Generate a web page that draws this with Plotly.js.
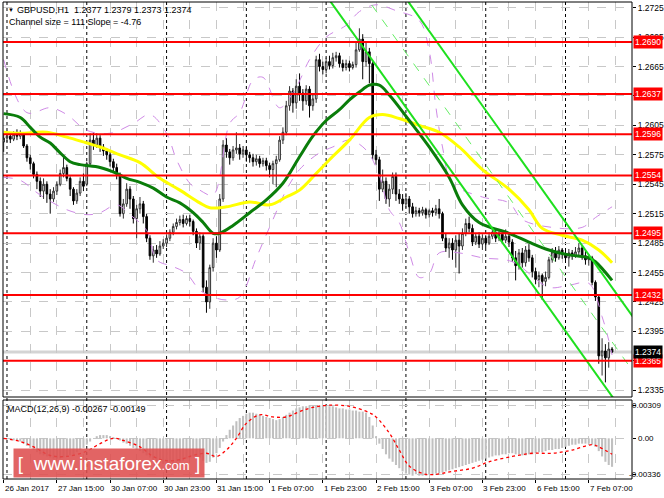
<!DOCTYPE html>
<html><head><meta charset="utf-8">
<script src="https://cdn.plot.ly/plotly-3.0.1.min.js"></script>
<style>html,body{margin:0;padding:0;background:#fff;}#chart{width:664px;height:498px;}</style>
</head><body><div id="chart"></div>
<script>
// ---------- DATA (GBPUSD H1, bars from 26 Jan 2017 23:00) ----------
const openP = [1.2588,1.2592,1.2594,1.2591,1.2596,1.2594,1.2597,1.2584,1.2572,1.2566,
1.2555,1.2548,1.2538,1.2545,1.2535,1.2530,1.2538,1.2545,1.2556,1.2562,
1.2551,1.2540,1.2528,1.2536,1.2548,1.2545,1.2566,1.2590,1.2585,1.2592,
1.2583,1.2579,1.2575,1.2568,1.2562,1.2555,1.2515,1.2525,1.2540,1.2530,
1.2510,1.2520,1.2525,1.2512,1.2490,1.2472,1.2478,1.2474,1.2482,1.2485,
1.2490,1.2496,1.2502,1.2506,1.2509,1.2505,1.2510,1.2507,1.2497,1.2485,
1.2492,1.2440,1.2425,1.2460,1.2485,1.2478,1.2530,1.2585,1.2578,1.2572,
1.2580,1.2582,1.2576,1.2580,1.2575,1.2572,1.2568,1.2571,1.2566,1.2569,
1.2564,1.2560,1.2566,1.2570,1.2590,1.2598,1.2625,1.2640,1.2628,1.2645,
1.2638,1.2630,1.2642,1.2625,1.2632,1.2672,1.2665,1.2662,1.2670,1.2666,
1.2674,1.2676,1.2668,1.2664,1.2668,1.2664,1.2667,1.2682,1.2693,1.2670,
1.2680,1.2668,1.2575,1.2570,1.2540,1.2548,1.2530,1.2540,1.2553,1.2535,
1.2530,1.2525,1.2530,1.2522,1.2515,1.2518,1.2516,1.2519,1.2514,1.2518,
1.2516,1.2520,1.2515,1.2490,1.2480,1.2485,1.2478,1.2488,1.2482,1.2495,
1.2505,1.2500,1.2486,1.2492,1.2484,1.2490,1.2485,1.2492,1.2496,1.2490,
1.2494,1.2488,1.2492,1.2486,1.2470,1.2462,1.2475,1.2465,1.2478,1.2470,
1.2456,1.2448,1.2452,1.2446,1.2450,1.2468,1.2476,1.2470,1.2478,1.2474,
1.2470,1.2475,1.2472,1.2476,1.2480,1.2472,1.2468,1.2470,1.2445,1.2430,
1.2370,1.2375,1.2368,1.2377];
const highP = [1.2596,1.2598,1.2597,1.2599,1.2601,1.2600,1.2598,1.2586,1.2575,1.2568,
1.2558,1.2552,1.2551,1.2548,1.2540,1.2542,1.2548,1.2560,1.2573,1.2565,
1.2553,1.2542,1.2540,1.2552,1.2556,1.2568,1.2597,1.2598,1.2597,1.2595,
1.2586,1.2582,1.2578,1.2571,1.2566,1.2557,1.2530,1.2546,1.2543,1.2533,
1.2524,1.2532,1.2528,1.2515,1.2493,1.2482,1.2483,1.2487,1.2489,1.2494,
1.2499,1.2505,1.2510,1.2513,1.2514,1.2513,1.2514,1.2509,1.2500,1.2496,
1.2494,1.2447,1.2463,1.2490,1.2492,1.2535,1.2590,1.2592,1.2581,1.2584,
1.2598,1.2586,1.2584,1.2583,1.2578,1.2576,1.2575,1.2574,1.2572,1.2572,
1.2567,1.2569,1.2574,1.2594,1.2603,1.2630,1.2645,1.2643,1.2652,1.2658,
1.2642,1.2646,1.2645,1.2636,1.2676,1.2678,1.2670,1.2674,1.2676,1.2679,
1.2680,1.2679,1.2672,1.2672,1.2671,1.2670,1.2690,1.2704,1.2698,1.2690,
1.2684,1.2670,1.2580,1.2573,1.2560,1.2552,1.2545,1.2557,1.2557,1.2540,
1.2535,1.2536,1.2533,1.2526,1.2522,1.2521,1.2522,1.2521,1.2520,1.2521,
1.2524,1.2530,1.2517,1.2495,1.2490,1.2490,1.2493,1.2495,1.2500,1.2510,
1.2512,1.2504,1.2495,1.2496,1.2494,1.2493,1.2496,1.2500,1.2499,1.2497,
1.2496,1.2499,1.2495,1.2489,1.2477,1.2479,1.2480,1.2482,1.2484,1.2473,
1.2460,1.2456,1.2454,1.2456,1.2471,1.2480,1.2481,1.2482,1.2480,1.2478,
1.2479,1.2478,1.2481,1.2485,1.2483,1.2477,1.2474,1.2472,1.2447,1.2432,
1.2388,1.2382,1.2384,1.2379];
const lowP = [1.2578,1.2588,1.2587,1.2589,1.2590,1.2591,1.2582,1.2568,1.2560,1.2551,
1.2540,1.2532,1.2530,1.2526,1.2515,1.2527,1.2534,1.2543,1.2552,1.2548,
1.2533,1.2524,1.2525,1.2533,1.2538,1.2543,1.2563,1.2580,1.2582,1.2578,
1.2574,1.2570,1.2563,1.2558,1.2550,1.2512,1.2510,1.2522,1.2520,1.2505,
1.2490,1.2515,1.2505,1.2486,1.2468,1.2465,1.2470,1.2472,1.2479,1.2481,
1.2487,1.2493,1.2499,1.2503,1.2501,1.2503,1.2502,1.2493,1.2480,1.2478,
1.2435,1.2414,1.2418,1.2456,1.2470,1.2476,1.2527,1.2572,1.2565,1.2569,
1.2576,1.2570,1.2572,1.2568,1.2567,1.2563,1.2564,1.2562,1.2563,1.2559,
1.2552,1.2545,1.2542,1.2568,1.2586,1.2595,1.2620,1.2618,1.2622,1.2630,
1.2620,1.2626,1.2613,1.2620,1.2628,1.2660,1.2657,1.2658,1.2662,1.2663,
1.2670,1.2664,1.2660,1.2661,1.2660,1.2662,1.2664,1.2680,1.2652,1.2665,
1.2648,1.2570,1.2565,1.2528,1.2537,1.2525,1.2522,1.2535,1.2528,1.2525,
1.2518,1.2521,1.2515,1.2511,1.2512,1.2512,1.2513,1.2510,1.2511,1.2512,
1.2513,1.2510,1.2487,1.2476,1.2470,1.2468,1.2460,1.2454,1.2478,1.2492,
1.2496,1.2482,1.2483,1.2480,1.2478,1.2480,1.2483,1.2489,1.2486,1.2487,
1.2484,1.2485,1.2481,1.2466,1.2447,1.2458,1.2460,1.2461,1.2466,1.2450,
1.2443,1.2440,1.2427,1.2441,1.2448,1.2465,1.2466,1.2468,1.2469,1.2465,
1.2461,1.2468,1.2470,1.2472,1.2468,1.2463,1.2462,1.2442,1.2426,1.2362,
1.2350,1.2343,1.2358,1.2373];
const closeP = [1.2592,1.2594,1.2591,1.2596,1.2594,1.2597,1.2584,1.2572,1.2566,1.2555,
1.2548,1.2538,1.2545,1.2535,1.2530,1.2538,1.2545,1.2556,1.2562,1.2551,
1.2540,1.2528,1.2536,1.2548,1.2543,1.2566,1.2590,1.2585,1.2592,1.2583,
1.2579,1.2575,1.2568,1.2562,1.2555,1.2515,1.2525,1.2540,1.2530,1.2510,
1.2520,1.2525,1.2512,1.2490,1.2472,1.2478,1.2474,1.2482,1.2485,1.2490,
1.2496,1.2502,1.2506,1.2509,1.2505,1.2510,1.2507,1.2497,1.2485,1.2492,
1.2440,1.2425,1.2460,1.2485,1.2478,1.2530,1.2585,1.2578,1.2572,1.2580,
1.2582,1.2576,1.2580,1.2575,1.2572,1.2568,1.2571,1.2566,1.2569,1.2564,
1.2560,1.2566,1.2570,1.2590,1.2598,1.2625,1.2640,1.2628,1.2645,1.2638,
1.2630,1.2642,1.2625,1.2632,1.2672,1.2665,1.2662,1.2670,1.2666,1.2674,
1.2676,1.2668,1.2664,1.2668,1.2664,1.2667,1.2682,1.2693,1.2670,1.2680,
1.2668,1.2575,1.2570,1.2540,1.2548,1.2530,1.2540,1.2553,1.2535,1.2530,
1.2525,1.2530,1.2522,1.2515,1.2518,1.2516,1.2519,1.2514,1.2518,1.2516,
1.2520,1.2515,1.2490,1.2480,1.2485,1.2478,1.2488,1.2482,1.2495,1.2505,
1.2500,1.2486,1.2492,1.2484,1.2490,1.2485,1.2492,1.2496,1.2490,1.2494,
1.2488,1.2492,1.2486,1.2470,1.2462,1.2475,1.2465,1.2478,1.2470,1.2456,
1.2448,1.2452,1.2446,1.2450,1.2468,1.2476,1.2470,1.2478,1.2474,1.2470,
1.2475,1.2472,1.2476,1.2480,1.2472,1.2468,1.2470,1.2445,1.2430,1.2370,
1.2375,1.2368,1.2377,1.2374];

// Moving averages (sampled at bar index)
const maGreenIdx = [0,5,8,11,14,17,20,23,29,34,37,41,45,49,53,57,60,63,65,69,74,79,84,89,93,97,101,104,107,110,113,116,122,128,134,138,143,152,158,164,170,176,178,183];
const maGreenVal = [1.2617,1.2613,1.2603,1.2593,1.2587,1.2577,1.2568,1.2565,1.2562,1.2556,1.2551,1.2547,1.2541,1.2532,1.2526,1.2516,1.2506,1.2495,1.2495,1.2503,1.2516,1.2529,1.2546,1.2573,1.2594,1.2610,1.2621,1.2631,1.2639,1.2646,1.2646,1.2636,1.2610,1.2583,1.2552,1.2524,1.2506,1.2495,1.2486,1.2478,1.2473,1.2470,1.2466,1.2447];
const maYellowIdx = [0,5,13,19,25,29,35,41,47,53,59,62,67,74,80,85,89,94,98,104,110,114,119,125,131,137,144,152,158,162,168,174,179,183];
const maYellowVal = [1.2598,1.2597,1.2598,1.2593,1.2587,1.2583,1.2575,1.2567,1.2551,1.2539,1.2526,1.2521,1.2522,1.2527,1.2524,1.2532,1.2539,1.2556,1.2570,1.2590,1.2613,1.2616,1.2612,1.2605,1.2598,1.2583,1.2560,1.2540,1.2519,1.2500,1.2493,1.2488,1.2478,1.2465];

// Bollinger-type bands
const bandUpIdx = [0,7,14,19,25,32,39,44,49,52,56,59,63,68,71,75,78,83,88,92,97,103,107,112,118,125,128,130,132,135,144,152,156,165,174,178,183];
const bandUpVal = [1.2672,1.2618,1.2623,1.2616,1.2600,1.2597,1.2607,1.2616,1.2597,1.2570,1.2546,1.2539,1.2534,1.2607,1.2618,1.2651,1.2654,1.2623,1.2644,1.2672,1.2695,1.2707,1.2721,1.2728,1.2722,1.2712,1.2681,1.2624,1.2583,1.2546,1.2532,1.2526,1.2509,1.2501,1.2501,1.2511,1.2522];
const bandLoIdx = [0,5,11,19,25,29,34,38,43,46,51,55,59,63,67,71,76,81,85,89,95,99,104,109,113,116,119,122,125,128,131,137,144,153,164,170,176,180,182,183];
const bandLoVal = [1.2552,1.2549,1.2534,1.2519,1.2514,1.2516,1.2524,1.2514,1.2498,1.2468,1.2461,1.2454,1.2437,1.2430,1.2427,1.2430,1.2470,1.2509,1.2539,1.2560,1.2577,1.2583,1.2590,1.2580,1.2554,1.2519,1.2506,1.2475,1.2450,1.2454,1.2475,1.2475,1.2470,1.2466,1.2440,1.2442,1.2444,1.2410,1.2386,1.2371];

// Regression channel (size 111, slope -4.76)
const chanIdx = [95, 192];
const chanLower = [1.2747, 1.2286];
const chanMid = [1.28025, 1.23415];
const chanUpper = [1.2858, 1.2397];

// Horizontal levels
const levels = [1.2690, 1.2637, 1.2596, 1.2554, 1.2495, 1.2432, 1.2365];
const lastPrice = 1.2374;

// MACD(12,26,9)
const macdHist = [-0.0001,-0.0001,-0.0001,-0.0002,-0.0002,-0.0003,-0.0005,-0.0007,-0.0009,-0.0011,
-0.0013,-0.0015,-0.0016,-0.0017,-0.0018,-0.0019,-0.0019,-0.0019,-0.0018,-0.0017,
-0.0016,-0.0015,-0.0013,-0.0011,-0.0009,-0.0006,-0.0003,0.0000,0.0002,0.0003,
0.0003,0.0003,0.0002,0.0001,0.0000,-0.0002,-0.0004,-0.0005,-0.0007,-0.0009,
-0.0011,-0.0012,-0.0014,-0.0016,-0.0018,-0.0020,-0.0022,-0.0023,-0.0024,-0.0025,
-0.0026,-0.0025,-0.0024,-0.0022,-0.0021,-0.0019,-0.0018,-0.0017,-0.0017,-0.0018,
-0.0021,-0.0023,-0.0022,-0.0018,-0.0014,-0.0009,-0.0003,0.0003,0.0008,0.0012,
0.0016,0.0019,0.0021,0.0023,0.0024,0.0024,0.0023,0.0022,0.0021,0.0020,
0.0019,0.0018,0.0017,0.0018,0.0020,0.0022,0.0024,0.0026,0.0028,0.0029,
0.0030,0.0030,0.00309,0.00309,0.00309,0.00309,0.00309,0.00309,0.0030,0.0030,
0.0029,0.0028,0.0028,0.0027,0.0027,0.0026,0.0026,0.0025,0.0025,0.0024,
0.0020,0.0012,0.0002,-0.0005,-0.0010,-0.0015,-0.0019,-0.0022,-0.0025,-0.0028,
-0.0031,-0.0033,-0.0034,-0.0035,-0.00336,-0.0035,-0.0035,-0.0035,-0.0034,-0.0034,
-0.0033,-0.0033,-0.0032,-0.0031,-0.0030,-0.0029,-0.0028,-0.0027,-0.0026,-0.0025,
-0.0024,-0.0023,-0.0022,-0.0021,-0.0020,-0.0019,-0.0018,-0.0017,-0.0016,-0.0016,
-0.0015,-0.0015,-0.0014,-0.0014,-0.0015,-0.0015,-0.0016,-0.0016,-0.0015,-0.0015,
-0.0014,-0.0013,-0.0013,-0.0012,-0.0011,-0.0011,-0.0010,-0.0010,-0.0009,-0.0008,
-0.0007,-0.0006,-0.0006,-0.0005,-0.0005,-0.0005,-0.0005,-0.0006,-0.0008,-0.0012,
-0.0017,-0.0022,-0.0025,-0.00267];
const sigIdx = [0,5,9,14,19,25,29,33,36,41,45,49,53,57,61,64,67,70,73,77,81,85,89,93,98,104,110,112,116,119,122,126,129,135,141,146,153,159,165,171,177,179,183];
const sigVal = [0.0000,-0.0003,-0.0008,-0.0016,-0.0017,-0.0012,-0.0005,0.0000,-0.0002,-0.0008,
-0.0017,-0.0021,-0.0020,-0.0016,-0.0014,-0.0017,-0.0011,0.0000,0.0014,0.0022,
0.0020,0.0020,0.0025,0.0029,0.0031,0.0030,0.0024,0.0020,0.0005,-0.0011,
-0.0026,-0.0033,-0.0034,-0.0031,-0.0028,-0.0022,-0.0017,-0.0014,-0.0014,-0.0011,
-0.0006,-0.0008,-0.00149];

// Axis ticks / labels
const priceTicks = [1.2335,1.2365,1.2395,1.2425,1.2455,1.2485,1.2515,1.2545,1.2575,1.2605,1.2635,1.2665,1.2695,1.2725];
const hiddenPriceTicks = [1.2365, 1.2635]; // fully covered by level labels in the original
const macdTicks = [0.00309, 0, -0.00336];
const macdTickText = ['0.00309', '0.00', '-0.00336'];
const timeLabelIdx = [0,16,32,48,64,80,96,112,128,144,160,176];
const timeLabels = ['26 Jan 2017','27 Jan 15:00','30 Jan 07:00','30 Jan 23:00','31 Jan 15:00','1 Feb 07:00','1 Feb 23:00','2 Feb 15:00','3 Feb 07:00','3 Feb 23:00','6 Feb 15:00','7 Feb 07:00'];
const daySeparators = [1,25,49,73,97,121,145,169];

// ---------- CHART ----------
const FONT = 'Liberation Sans, Arial, sans-serif';
const barIdx = closeP.map((_, i) => i);
const minorIdx = [];
for (let k = 8; k < 190; k += 16) minorIdx.push(k);

const MAIN_DOM = [0.1719, 1];
const MACD_DOM = [0, 0.1656];

const traces = [
  {type:'candlestick', x:barIdx, open:openP, high:highP, low:lowP, close:closeP,
   increasing:{line:{color:'#303030', width:1}, fillcolor:'#ffffff'},
   decreasing:{line:{color:'#000000', width:1}, fillcolor:'#000000'},
   whiskerwidth:0, hoverinfo:'skip', xaxis:'x', yaxis:'y'},
  {type:'scatter', mode:'lines', x:bandUpIdx, y:bandUpVal, line:{color:'#cf8ae6', width:1, dash:'dash', shape:'spline'}, hoverinfo:'skip', xaxis:'x', yaxis:'y'},
  {type:'scatter', mode:'lines', x:bandLoIdx, y:bandLoVal, line:{color:'#cf8ae6', width:1, dash:'dash', shape:'spline'}, hoverinfo:'skip', xaxis:'x', yaxis:'y'},
  {type:'scatter', mode:'lines', x:maYellowIdx, y:maYellowVal, line:{color:'#ffff00', width:3, shape:'spline'}, hoverinfo:'skip', xaxis:'x', yaxis:'y'},
  {type:'scatter', mode:'lines', x:maGreenIdx, y:maGreenVal, line:{color:'#0a7d0a', width:3, shape:'spline'}, hoverinfo:'skip', xaxis:'x', yaxis:'y'},
  {type:'scatter', mode:'lines', x:chanIdx, y:chanMid, line:{color:'#66ee66', width:1, dash:'dash'}, hoverinfo:'skip', xaxis:'x', yaxis:'y'},
  {type:'scatter', mode:'lines', x:chanIdx, y:chanUpper, line:{color:'#1ee01e', width:2}, hoverinfo:'skip', xaxis:'x', yaxis:'y'},
  {type:'scatter', mode:'lines', x:chanIdx, y:chanLower, line:{color:'#1ee01e', width:2}, hoverinfo:'skip', xaxis:'x', yaxis:'y'},
  {type:'bar', x:barIdx, y:macdHist, width:0.62, marker:{color:'#c0c0c0', line:{width:0}}, hoverinfo:'skip', xaxis:'x', yaxis:'y2'},
  {type:'scatter', mode:'lines', x:sigIdx, y:sigVal, line:{color:'#ff0000', width:1.3, dash:'dot', shape:'spline'}, hoverinfo:'skip', xaxis:'x', yaxis:'y2'}
];

const shapes = [];
daySeparators.forEach(d => shapes.push({type:'line', xref:'x', yref:'paper', x0:d, x1:d, y0:0, y1:1, layer:'below', line:{color:'#000', width:1, dash:'3px,3px'}}));
shapes.push({type:'line', xref:'paper', yref:'y', x0:0, x1:1, y0:lastPrice, y1:lastPrice, layer:'below', line:{color:'#d4d4d4', width:3}});
levels.forEach(v => shapes.push({type:'line', xref:'paper', yref:'y', x0:0, x1:1, y0:v, y1:v, layer:'above', line:{color:'#ff0000', width:2}}));
shapes.push({type:'rect', xref:'paper', yref:'paper', x0:0, x1:1, y0:MAIN_DOM[0], y1:MAIN_DOM[1], line:{color:'#000', width:1}, layer:'above'});
shapes.push({type:'rect', xref:'paper', yref:'paper', x0:0, x1:1, y0:MACD_DOM[0], y1:MACD_DOM[1], line:{color:'#000', width:1}, layer:'above'});

const HDR = 9;
const annotations = [];
levels.forEach(v => annotations.push({xref:'paper', yref:'y', x:1, y:v, xanchor:'left', yanchor:'middle', xshift:1, text:v.toFixed(4), showarrow:false, bgcolor:'#ff0000', borderpad:1, font:{family:FONT, size:8.5, color:'#ffffff'}}));
annotations.push({xref:'paper', yref:'y', x:1, y:lastPrice, xanchor:'left', yanchor:'middle', xshift:1, text:lastPrice.toFixed(4), showarrow:false, bgcolor:'#000000', borderpad:1, font:{family:FONT, size:8.5, color:'#ffffff'}});
const last = closeP.length - 1;
annotations.push({xref:'paper', yref:'paper', x:0, y:1, xanchor:'left', yanchor:'top', xshift:3, yshift:-3, showarrow:false, text:'▼', font:{family:FONT, size:6, color:'#000'}});
annotations.push({xref:'paper', yref:'paper', x:0, y:1, xanchor:'left', yanchor:'top', xshift:12, yshift:-1, showarrow:false,
  text:'GBPUSD,H1  ' + openP[last].toFixed(4) + ' ' + highP[last].toFixed(4) + ' ' + lowP[last].toFixed(4) + ' ' + closeP[last].toFixed(4),
  font:{family:FONT, size:HDR, color:'#000'}});
annotations.push({xref:'paper', yref:'paper', x:0, y:1, xanchor:'left', yanchor:'top', xshift:4, yshift:-13, showarrow:false,
  text:'Channel size = 111 Slope = -4.76', font:{family:FONT, size:HDR, color:'#000'}});
annotations.push({xref:'paper', yref:'paper', x:0, y:MACD_DOM[1], xanchor:'left', yanchor:'top', xshift:2, yshift:-2, showarrow:false,
  text:'MACD(12,26,9) ' + macdHist[last].toFixed(5) + ' ' + sigVal[sigVal.length-1].toFixed(5), font:{family:FONT, size:HDR, color:'#000'}});
timeLabelIdx.forEach((ix, k) => annotations.push({xref:'x', yref:'paper', x:ix, y:0, xanchor:'left', yanchor:'top', xshift:-1, yshift:-3, showarrow:false,
  text:timeLabels[k], font:{family:FONT, size:8, color:'#000'}}));
// MACD scale labels (kept inside the right margin)
macdTicks.forEach((v, k) => annotations.push({xref:'paper', yref:'y2', x:1, y:v, yanchor:'middle',
  xanchor: k === 1 ? 'left' : 'right', xshift: k === 1 ? 4 : 31, showarrow:false,
  text:macdTickText[k], font:{family:FONT, size:8, color:'#000'}}));
annotations.push({xref:'paper', yref:'paper', x:0.0159, y:0, xanchor:'left', yanchor:'bottom', yshift:1, showarrow:false,
  width:188, height:26, bgcolor:'rgba(222,78,78,0.88)', borderpad:1,
  text:'[&nbsp;&nbsp;www.instaforex<span style="font-size:13px">.com</span>&nbsp;]', font:{family:FONT, size:19, color:'#ffffff'}});

const layout = {
  width:664, height:498,
  margin:{l:3, r:32, t:2, b:19},
  paper_bgcolor:'#ffffff', plot_bgcolor:'#ffffff',
  showlegend:false, dragmode:false,
  font:{family:FONT, size:8, color:'#000'},
  xaxis:{range:[-0.2, 189], anchor:'y2', rangeslider:{visible:false}, tickmode:'array', tickvals:timeLabelIdx,
    showticklabels:false, ticks:'outside', ticklen:3, tickcolor:'#000',
    showgrid:true, gridcolor:'#c8c8c8', griddash:'dash', gridwidth:1,
    minor:{tickmode:'array', tickvals:minorIdx, showgrid:true, gridcolor:'#c8c8c8', griddash:'dash', gridwidth:1, ticks:''},
    zeroline:false, showline:false, fixedrange:true},
  yaxis:{domain:MAIN_DOM, range:[1.23281, 1.27308], side:'right', anchor:'x', tickmode:'array', tickvals:priceTicks,
    ticktext:priceTicks.map(v => hiddenPriceTicks.includes(v) ? '' : v.toFixed(4)),
    ticks:'outside', ticklen:3, tickcolor:'#000', showgrid:true, gridcolor:'#c8c8c8', griddash:'dash', gridwidth:1,
    zeroline:false, showline:false, tickfont:{family:FONT, size:8.5, color:'#000'}, fixedrange:true},
  yaxis2:{domain:MACD_DOM, range:[-0.003811, 0.003586], side:'right', anchor:'x', tickmode:'array', tickvals:macdTicks,
    showticklabels:false, ticks:'outside', ticklen:3, tickcolor:'#000', showgrid:true, gridcolor:'#c8c8c8', griddash:'dash', gridwidth:1,
    zeroline:false, showline:false, fixedrange:true},
  bargap:0.35,
  shapes:shapes, annotations:annotations
};

Plotly.newPlot('chart', traces, layout, {displayModeBar:false, staticPlot:true});
</script>
</body></html>
